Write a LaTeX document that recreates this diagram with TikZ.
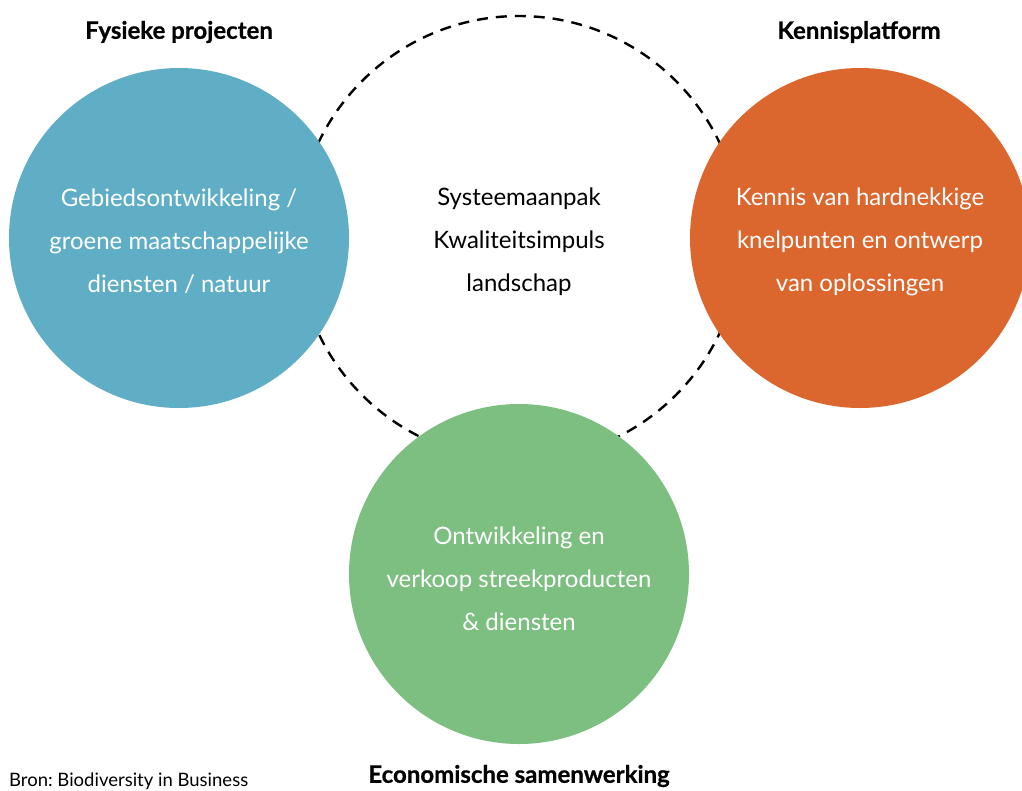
\documentclass[tikz,border=0pt]{standalone}
\usepackage{fontspec}
\setmainfont{Lato}
\frenchspacing
\definecolor{cblue}{HTML}{5FAEC5}
\definecolor{corange}{HTML}{DC672E}
\definecolor{cgreen}{HTML}{7DBE81}
\begin{document}
\begin{tikzpicture}[x=1pt,y=-1pt,
  blob/.style={circle,minimum size=340pt,inner sep=0pt},
  intext/.style={align=center,text=white,font=\fontsize{24}{43}\selectfont},
  title/.style={font=\fontsize{24}{28}\selectfont\bfseries\addfontfeature{FakeBold=0.7}},
]
\useasboundingbox (0,0) rectangle (1022,790);
\clip (0,0) rectangle (1022,790);
\node[circle,minimum size=444pt,inner sep=0pt,draw=black,line width=2.4pt,dash pattern=on 11pt off 8pt] (sys) at (519,238) {};
\node[blob,fill=cblue] (blue) at (179,238) {};
\node[blob,fill=corange] (orange) at (860,238) {};
\node[blob,fill=cgreen] (green) at (519,574) {};
\node[intext] (bt) at (179,241.5) {Gebiedsontwikkeling /\\groene maatschappelijke\\diensten / natuur};
\node[intext] (ot) at (860,241.5) {Kennis van hardnekkige\\knelpunten en ontwerp\\van oplossingen};
\node[intext] (gt) at (519,578.5) {Ontwikkeling en\\verkoop streekproducten\\\& diensten};
\node[intext,text=black] (st) at (519,241.5) {Systeemaanpak\\Kwaliteitsimpuls\\landschap};
\node[title] (t1) at (179,32) {Fysieke projecten};
\node[title] (t2) at (859,32) {Kennisplatform};
\node[title] (t3) at (519,776) {Economische samenwerking};
\node[anchor=base west,font=\fontsize{18.5}{22}\selectfont,inner sep=0pt] (src) at (9,786) {Bron: Biodiversity in Business};
\end{tikzpicture}
\end{document}
